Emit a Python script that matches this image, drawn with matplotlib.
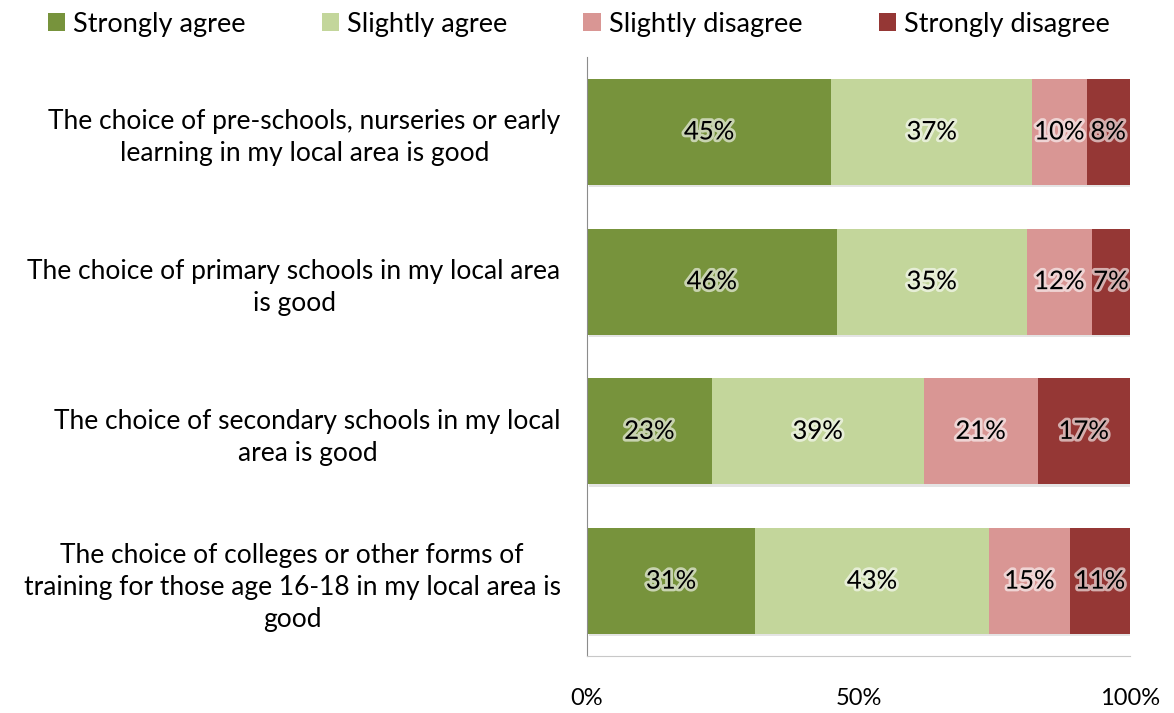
import matplotlib.pyplot as plt
import matplotlib.patheffects as pe
from matplotlib.patches import Patch

plt.rcParams['font.family'] = ['Lato', 'DejaVu Sans']

questions = [
    "The choice of pre-schools, nurseries or early\nlearning in my local area is good",
    "The choice of primary schools in my local area\nis good",
    "The choice of secondary schools in my local\narea is good",
    "The choice of colleges or other forms of\ntraining for those age 16-18 in my local area is\ngood",
]
series = ["Strongly agree", "Slightly agree", "Slightly disagree", "Strongly disagree"]
strongly_agree = [45, 46, 23, 31]
slightly_agree = [37, 35, 39, 43]
slightly_disagree = [10, 12, 21, 15]
strongly_disagree = [8, 7, 17, 11]
colors = ["#77933C", "#C3D69B", "#D99694", "#953735"]

values = [strongly_agree, slightly_agree, slightly_disagree, strongly_disagree]

fig = plt.figure(figsize=(11.74, 7.13), dpi=100)
ax = fig.add_axes([0.5, 0.08, 0.4625, 0.84])

ypos = list(range(len(questions)))
left = [0] * len(questions)
glow = [pe.withStroke(linewidth=4, foreground="white", alpha=0.6)]
for vals, col in zip(values, colors):
    # soft shadow under each segment
    ax.barh([y + 0.015 for y in ypos], vals, left=[l + 0.3 for l in left], height=0.707,
            color="#e4e4e4", zorder=1)
    ax.barh(ypos, vals, left=left, height=0.707, color=col, zorder=2)
    for y, v, l in zip(ypos, vals, left):
        ax.text(l + v / 2, y, f"{v}%", ha="center", va="center", fontsize=18.5,
                color="black", path_effects=glow, zorder=3)
    left = [l + v for l, v in zip(left, vals)]

ax.set_xlim(0, 100)
ax.set_ylim(3.5, -0.5)
ax.set_xticks([0, 50, 100])
ax.set_xticklabels(["0%", "50%", "100%"], fontsize=17)
ax.tick_params(axis="x", length=0, pad=23)
ax.set_yticks(ypos)
ax.set_yticklabels(questions, fontsize=19, multialignment="center", linespacing=1.35)
ax.tick_params(axis="y", length=0, pad=19)

for side in ["top", "right"]:
    ax.spines[side].set_visible(False)
ax.spines["left"].set_color("#8c8c8c")
ax.spines["bottom"].set_color("#c8c8c8")

handles = [Patch(facecolor=c, edgecolor="none") for c in colors]
fig.legend(handles, series, loc="center", bbox_to_anchor=(0.493, 0.966), ncol=4,
           frameon=False, fontsize=19.5, handlelength=0.65, handleheight=0.65,
           handletextpad=0.3, columnspacing=2.8)

fig.savefig("out.png", dpi=100)
